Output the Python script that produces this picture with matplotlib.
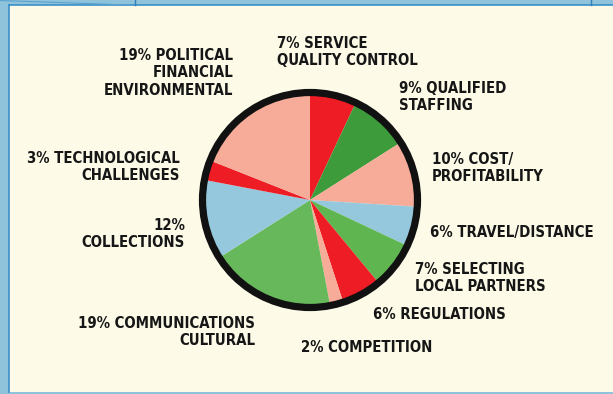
import matplotlib
matplotlib.use("Agg")
import matplotlib.pyplot as plt
from matplotlib.patches import Rectangle, Circle

# slice data, clockwise from 12 o'clock
shares = [7, 9, 10, 6, 7, 6, 2, 19, 12, 3, 19]
slice_colors = ["#ee1c25", "#3d9b3b", "#f7ab99", "#95c8dc", "#5fb550",
                "#ee1c25", "#f7ab99", "#66b85a", "#95c8dc", "#ee1c25", "#f7ab99"]

labels = [
    ["7% SERVICE", "QUALITY CONTROL"],
    ["9% QUALIFIED", "STAFFING"],
    ["10% COST/", "PROFITABILITY"],
    ["6% TRAVEL/DISTANCE"],
    ["7% SELECTING", "LOCAL PARTNERS"],
    ["6% REGULATIONS"],
    ["2% COMPETITION"],
    ["19% COMMUNICATIONS", "CULTURAL"],
    ["12%", "COLLECTIONS"],
    ["3% TECHNOLOGICAL", "CHALLENGES"],
    ["19% POLITICAL", "FINANCIAL", "ENVIRONMENTAL"],
]
# label anchor (x, first baseline, alignment) in pixels from top-left
label_pos = [
    (277, 48, "left"), (399, 92.5, "left"), (432, 164, "left"),
    (430, 237, "left"), (415, 274, "left"), (373, 319, "left"),
    (301, 352, "left"), (255, 328, "right"), (185, 230, "right"),
    (180, 163, "right"), (233, 60, "right"),
]

W, H = 613, 394
cx, cy = 310, 200

fig = plt.figure(figsize=(W / 100, H / 100), dpi=100, facecolor="#8fc3dc")
bg = fig.add_axes([0, 0, 1, 1])
bg.set_xlim(0, W)
bg.set_ylim(H, 0)
bg.axis("off")
bg.add_patch(Rectangle((9, 5), W - 9, 387, facecolor="#fdfbe8", edgecolor="none"))
bg.plot([9, 9], [5, 392], color="#3a8fc8", lw=1.2)
bg.plot([9, W], [5, 5], color="#3a8fc8", lw=1.2)
bg.plot([135, 135], [0, 5], color="#2f7fb8", lw=1)
bg.plot([591, 591], [0, 5], color="#2f7fb8", lw=1)
bg.plot([0, 130], [0.5, 5], color="#5aa3cf", lw=0.8)

for lines, (x, y, ha) in zip(labels, label_pos):
    for i, line in enumerate(lines):
        bg.text(x, y + i * 17.3, line, ha=ha, va="baseline", fontsize=10.7,
                fontweight="bold", fontstretch="condensed", family="DejaVu Sans",
                color="#161616")

size = 230
ax = fig.add_axes([(cx - size / 2) / W, (H - cy - size / 2) / H, size / W, size / H])
ax.pie(shares, colors=slice_colors, startangle=90, counterclock=False,
       radius=1.08, wedgeprops=dict(linewidth=0))
ax.add_patch(Circle((0, 0), 1.075, fill=False, edgecolor="#111111", lw=5.2))
ax.set_xlim(-1.15, 1.15)
ax.set_ylim(-1.15, 1.15)
ax.set_aspect("equal")
ax.axis("off")

fig.savefig("out.png", dpi=100, facecolor=fig.get_facecolor())
